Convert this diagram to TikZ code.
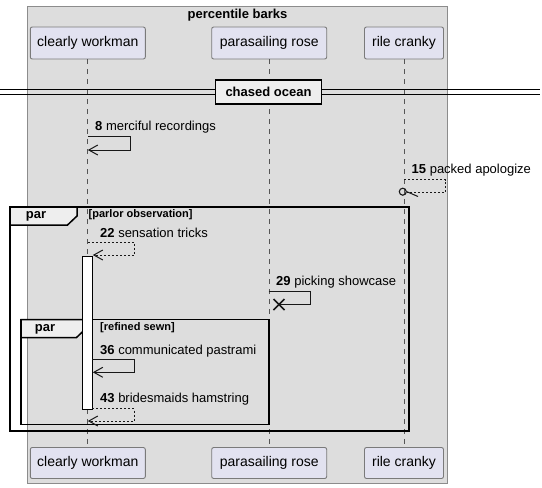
\documentclass[tikz,border=0pt]{standalone}
\usepackage{fontspec}
\setmainfont{Liberation Sans}
\usetikzlibrary{arrows.meta,calc}
\definecolor{boxbg}{HTML}{DDDDDD}
\definecolor{boxbd}{HTML}{8C8C8C}
\definecolor{partbg}{HTML}{E2E2F0}
\definecolor{partbd}{HTML}{7A7A7A}
\definecolor{tabbg}{HTML}{EEEEEE}
\definecolor{lifec}{HTML}{555555}
\definecolor{ink}{HTML}{181818}
\begin{document}
\begin{tikzpicture}[x=1pt,y=-1pt,
  part/.style={draw=partbd, fill=partbg, rounded corners=2pt, inner sep=0pt,
    font=\fontsize{14}{16}\selectfont, line width=0.9pt},
  lifeline/.style={draw=lifec, line width=0.8pt, dash pattern=on 5pt off 5pt},
  msgtext/.style={anchor=west, inner sep=0pt, font=\fontsize{13}{15}\selectfont, text=black},
  msg/.style={draw=ink, line width=1pt, -{Straight Barb[length=9pt,width=10pt,line width=1pt]}},
  dmsg/.style={msg, dash pattern=on 2pt off 2pt},
  frameline/.style={draw=black, line width=1.5pt},
  tabfill/.style={fill=tabbg, draw=black, line width=1.5pt},
  tablabel/.style={font=\bfseries\fontsize{13}{15}\selectfont, inner sep=0pt},
  guardlabel/.style={anchor=west, font=\bfseries\fontsize{11}{13}\selectfont, inner sep=0pt},
  actbar/.style={draw=black, fill=white, line width=1pt}
]
\useasboundingbox (0,0) rectangle (542,488);

% group box
\draw[fill=boxbg, draw=boxbd, line width=0.9pt] (27,6) rectangle (447.5,483);
\node[font=\bfseries\fontsize{13}{15}\selectfont, inner sep=0pt] (title) at (237.5,15) {percentile barks};

% participants
\node[part, minimum width=115pt, minimum height=32pt] (pwt) at (87.8,43) {clearly workman};
\node[part, minimum width=115pt, minimum height=32pt] (prt) at (269.2,43) {parasailing rose};
\node[part, minimum width=79pt, minimum height=32pt] (pct) at (404,43) {rile cranky};
\node[part, minimum width=115pt, minimum height=31pt] (pwb) at (87.8,463) {clearly workman};
\node[part, minimum width=115pt, minimum height=31pt] (prb) at (269.2,463) {parasailing rose};
\node[part, minimum width=79pt, minimum height=31pt] (pcb) at (404,463) {rile cranky};

% lifelines
\draw[lifeline] (pwt.south) -- (pwb.north);
\draw[lifeline] (prt.south) -- (prb.north);
\draw[lifeline] (pct.south) -- (pcb.north);

% divider
\draw[black, line width=0.9pt] (0,89.5) -- (540,89.5);
\draw[black, line width=0.9pt] (0,94) -- (540,94);
\node[draw=black, fill=tabbg, line width=1.8pt, minimum width=106pt, minimum height=24pt, inner sep=0pt,
  font=\bfseries\fontsize{13}{15}\selectfont] (div) at (268.5,92) {chased ocean};

% message 8
\coordinate (m8a) at (87.8,136);
\coordinate (m8b) at (130,136);
\coordinate (m8c) at (130,150);
\coordinate (m8d) at (87.8,150);
\node[msgtext] (t8) at (95,127) {\textbf{8} merciful recordings};
\draw[msg] (m8a) -- (m8b) -- (m8c) -- (m8d);

% message 15
\coordinate (m15a) at (404,179.5);
\coordinate (m15b) at (445.5,179.5);
\coordinate (m15c) at (445.5,192.3);
\coordinate (m15d) at (406.5,192.3);
\node[msgtext] (t15) at (411.5,170) {\textbf{15} packed apologize};
\draw[draw=ink, line width=0.8pt, dash pattern=on 2pt off 2pt] (m15a) -- (m15b) -- (m15c) -- (m15d);
\node[circle, draw=ink, line width=1.1pt, minimum size=7pt, inner sep=0pt] (c15) at (402.8,191.7) {};
\draw[ink, line width=1pt] (c15.east) -- (418,196.5);

% outer par frame
\draw[frameline] (10,207) rectangle (409,431);
\draw[tabfill] (10,207) -- (77,207) -- (77,216) -- (67.5,225) -- (10,225) -- cycle;
\node[tablabel] (par1) at (36,216.5) {par};
\node[guardlabel] (g1) at (88.5,215) {[parlor observation]};

% message 22
\coordinate (m22a) at (87.8,242.3);
\coordinate (m22b) at (134.3,242.3);
\coordinate (m22c) at (134.3,255);
\coordinate (m22d) at (92.8,255);
\node[msgtext] (t22) at (100,233.3) {\textbf{22} sensation tricks};
\draw[dmsg] (m22a) -- (m22b) -- (m22c) -- (m22d);

% message 29
\coordinate (m29a) at (268.5,291.7);
\coordinate (m29b) at (310.7,291.7);
\coordinate (m29c) at (310.7,304.5);
\coordinate (m29d) at (279,304.5);
\node[msgtext] (t29) at (276,282) {\textbf{29} picking showcase};
\draw[draw=ink, line width=1pt] (m29a) -- (m29b) -- (m29c) -- (m29d);
\draw[ink, line width=1.6pt] ($(m29d)+(-5.5,-5.5)$) -- ($(m29d)+(5.5,5.5)$);
\draw[ink, line width=1.6pt] ($(m29d)+(-5.5,5.5)$) -- ($(m29d)+(5.5,-5.5)$);

% inner par frame
\draw[frameline] (21,319.5) rectangle (269,424.5);
\draw[tabfill] (21,319.5) -- (86,319.5) -- (86,328.5) -- (76.5,337.5) -- (21,337.5) -- cycle;
\node[tablabel] (par2) at (45,329) {par};
\node[guardlabel] (g2) at (100,328) {[refined sewn]};

% activation bar
\node[actbar, minimum width=10pt, minimum height=153.5pt, inner sep=0pt, anchor=north] (act) at (87.3,255.6) {};

% message 36
\coordinate (m36a) at (92.3,359.3);
\coordinate (m36b) at (134.3,359.3);
\coordinate (m36c) at (134.3,372.3);
\coordinate (m36d) at (92.8,372.3);
\node[msgtext] (t36) at (100,350.7) {\textbf{36} communicated pastrami};
\draw[msg] (m36a) -- (m36b) -- (m36c) -- (m36d);

% message 43
\coordinate (m43a) at (92.3,408.5);
\coordinate (m43b) at (134.3,408.5);
\coordinate (m43c) at (134.3,421);
\coordinate (m43d) at (87.8,421);
\node[msgtext] (t43) at (100,399) {\textbf{43} bridesmaids hamstring};
\draw[dmsg] (m43a) -- (m43b) -- (m43c) -- (m43d);
\end{tikzpicture}
\end{document}
